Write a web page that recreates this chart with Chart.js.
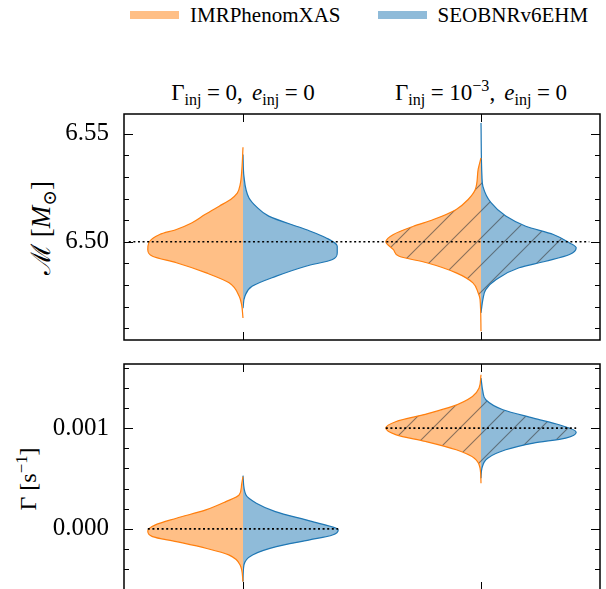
<!DOCTYPE html>
<html>
<head>
<meta charset="utf-8">
<script src="https://cdn.jsdelivr.net/npm/chart.js@4.4.1/dist/chart.umd.min.js"></script>
<style>
    body {
        margin: 0;
        width: 606px;
        height: 589px;
        overflow: hidden;
        background: #fff;
        position: relative;
        font-family: 'Liberation Serif', 'DejaVu Serif', serif;
        color: #000;
    }
    canvas { position: absolute; left: 0; }
    #chartTop { top: 98px; }
    #chartBottom { top: 348px; }
    #legend {
        position: absolute;
        left: 130px;
        top: 4px;
        display: flex;
        align-items: center;
        font-size: 21px;
        line-height: 22px;
        white-space: nowrap;
    }
    .swatch { display: inline-block; width: 49px; height: 8px; margin-right: 11px; }
    .legend-item { display: flex; align-items: center; }
    .legend-item + .legend-item { margin-left: 37px; }
    .col-title {
        position: absolute;
        top: 81px;
        font-size: 23px;
        line-height: 23px;
        white-space: nowrap;
        transform: translateX(-50%);
    }
    .eq { margin: 0 0.24em; }
    .sep { margin-right: 0.4em; }
    sub, sup { font-size: 70%; line-height: 0; }
    sub { vertical-align: -0.3em; }
    sup { vertical-align: 0.55em; }
    .y-title {
        position: absolute;
        font-size: 24px;
        line-height: 24px;
        white-space: nowrap;
        transform: translate(-50%, -50%) rotate(-90deg);
    }
</style>
</head>
<body>
<div id="legend">
    <div class="legend-item"><span class="swatch" style="background:#ffbf86"></span>IMRPhenomXAS</div>
    <div class="legend-item"><span class="swatch" style="background:#8fbbd9"></span>SEOBNRv6EHM</div>
</div>
<div class="col-title">Γ<sub>inj</sub><span class="eq">=</span>0,<span class="sep"></span><i>e</i><sub>inj</sub><span class="eq">=</span>0</div>
<div class="col-title">Γ<sub>inj</sub><span class="eq">=</span>10<sup>−3</sup>,<span class="sep"></span><i>e</i><sub>inj</sub><span class="eq">=</span>0</div>
<div class="y-title" style="left:41px; top:228px; font-size:27px">ℳ [<i>M</i><sub>⊙</sub>]</div>
<div class="y-title" style="left:28px; top:479px">Γ [s<sup>−1</sup>]</div>
<canvas id="chartTop" width="606" height="258"></canvas>
<canvas id="chartBottom" width="606" height="258"></canvas>
<script>
// violin centres: Γinj = 0 and Γinj = 1e-3
const positions = [0, 1];
const mcInj = 6.50;
const gammaInj = [0, 0.001];

// posteriors as [value, relative density] (density 1 = widest point)
const mcXasNoDecay = [[6.4647, 0], [6.4710, 0.015], [6.4748, 0.04], [6.4810, 0.146], [6.4856, 0.385], [6.4903, 0.70],
    [6.4933, 0.95], [6.4964, 1.0], [6.4995, 0.99], [6.5034, 0.875], [6.5057, 0.70], [6.5087, 0.54], [6.5126, 0.40],
    [6.5165, 0.25], [6.5196, 0.13], [6.5225, 0.06], [6.5265, 0.03], [6.5335, 0.012], [6.5438, 0]];
const mcEobNoDecay = [[6.4693, 0], [6.4748, 0.02], [6.4794, 0.095], [6.4841, 0.35], [6.4887, 0.66], [6.4918, 0.94],
    [6.4949, 0.99], [6.4980, 0.99], [6.5019, 0.87], [6.5057, 0.66], [6.5119, 0.27], [6.5163, 0.14], [6.5203, 0.063],
    [6.5303, 0.01], [6.5404, 0]];
const mcXasDecay = [[6.4586, 0], [6.4733, 0.01], [6.4764, 0.03], [6.4810, 0.085], [6.4856, 0.26], [6.4903, 0.57],
    [6.4933, 0.86], [6.4964, 0.92], [6.5000, 1.0], [6.5034, 0.92], [6.5072, 0.71], [6.5103, 0.50], [6.5150, 0.26],
    [6.5196, 0.135], [6.5242, 0.06], [6.5335, 0.03], [6.5388, 0]];
const mcEobDecay = [[6.4671, 0], [6.4733, 0.02], [6.4779, 0.05], [6.4825, 0.16], [6.4880, 0.40], [6.4910, 0.68],
    [6.4941, 0.93], [6.4972, 1.0], [6.4995, 0.93], [6.5034, 0.76], [6.5072, 0.47], [6.5119, 0.26], [6.5181, 0.105],
    [6.5257, 0.02], [6.5304, 0.01], [6.5550, 0]];

const gammaXasNoDecay = [[-0.000523, 0], [-0.000357, 0.03], [-0.000258, 0.15], [-0.000192, 0.39], [-0.000126, 0.70],
    [-0.000076, 0.95], [-0.000020, 1.0], [0.000040, 0.92], [0.000106, 0.70], [0.000189, 0.39], [0.000271, 0.18],
    [0.000338, 0.04], [0.000437, 0.015], [0.000519, 0]];
const gammaEobNoDecay = [[-0.000523, 0], [-0.000357, 0.01], [-0.000258, 0.10], [-0.000176, 0.35], [-0.000109, 0.70],
    [-0.000060, 0.94], [-0.000010, 1.0], [0.000072, 0.73], [0.000172, 0.34], [0.000255, 0.14], [0.000338, 0.03],
    [0.000529, 0]];
const gammaXasDecay = [[0.000454, 0], [0.000603, 0.01], [0.000702, 0.07], [0.000785, 0.26], [0.000867, 0.58],
    [0.000933, 0.89], [0.001000, 1.0], [0.001066, 0.89], [0.001132, 0.61], [0.001215, 0.30], [0.001314, 0.09],
    [0.001397, 0.02], [0.001529, 0]];
const gammaEobDecay = [[0.000503, 0], [0.000603, 0.01], [0.000702, 0.07], [0.000785, 0.26], [0.000851, 0.55],
    [0.000901, 0.89], [0.000960, 1.0], [0.001033, 0.82], [0.001099, 0.55], [0.001182, 0.23], [0.001281, 0.05],
    [0.001363, 0.02], [0.001497, 0]];

const HALF_WIDTH = 0.4;
const ORANGE = '#ff7f0e';
const BLUE = '#1f77b4';
const ORANGE_FILL = '#ffbf86';
const BLUE_FILL = '#8fbbd9';
const FONT = "'Liberation Serif', 'DejaVu Serif', serif";

function hatch(base) {
    const size = 27;
    const c = document.createElement('canvas');
    c.width = c.height = size;
    const g = c.getContext('2d');
    g.fillStyle = base;
    g.fillRect(0, 0, size, size);
    g.strokeStyle = 'rgba(60, 60, 60, 0.6)';
    g.lineWidth = 1.1;
    g.beginPath();
    g.moveTo(0, size); g.lineTo(size, 0);
    g.moveTo(-size / 2, size / 2); g.lineTo(size / 2, -size / 2);
    g.moveTo(size / 2, size * 1.5); g.lineTo(size * 1.5, size / 2);
    g.stroke();
    return g.createPattern(c, 'repeat');
}

// one half of a split violin, closed along the centre line by fill: 'shape'
function halfViolin(samples, pos, side, edge, fillStyle) {
    return {
        data: samples.map(([v, d]) => ({ x: pos + side * d * HALF_WIDTH, y: v })),
        borderColor: edge,
        backgroundColor: fillStyle,
        borderWidth: 1.2,
        fill: 'shape',
        cubicInterpolationMode: 'monotone',
        pointRadius: 0,
        order: 1
    };
}

function injLine(x0, x1, value) {
    return {
        data: [{ x: x0, y: value }, { x: x1, y: value }],
        borderColor: '#000',
        borderWidth: 1.6,
        borderDash: [2, 2.6],
        fill: false,
        pointRadius: 0,
        order: 0
    };
}

// frame with inward ticks, like the matplotlib style of the original
const axesFrame = {
    id: 'axesFrame',
    afterDatasetsDraw(chart) {
        const { ctx, chartArea: a, scales: { x, y } } = chart;
        ctx.save();
        ctx.strokeStyle = '#000';
        ctx.lineWidth = 1;
        ctx.beginPath();
        y.ticks.forEach(t => {
            const py = Math.round(y.getPixelForValue(t.value)) + 0.5;
            const len = t.label ? 9 : 5;
            ctx.moveTo(a.left, py); ctx.lineTo(a.left + len, py);
            ctx.moveTo(a.right, py); ctx.lineTo(a.right - len, py);
        });
        positions.forEach(p => {
            const px = Math.round(x.getPixelForValue(p)) + 0.5;
            ctx.moveTo(px, a.top); ctx.lineTo(px, a.top + 8);
            ctx.moveTo(px, a.bottom); ctx.lineTo(px, a.bottom - 8);
        });
        ctx.stroke();
        ctx.lineWidth = 1.5;
        ctx.strokeRect(a.left, a.top, a.right - a.left, a.bottom - a.top);
        ctx.restore();
    }
};

function makePanel(canvasId, datasets, yOpts) {
    return new Chart(document.getElementById(canvasId), {
        type: 'line',
        data: { datasets },
        options: {
            indexAxis: 'y',
            responsive: false,
            animation: false,
            events: [],
            layout: { padding: { top: 16, right: 6, bottom: 16, left: 0 } },
            plugins: { legend: { display: false }, tooltip: { enabled: false } },
            scales: {
                x: { type: 'linear', min: -0.5, max: 1.5, display: false },
                y: {
                    type: 'linear',
                    min: yOpts.min,
                    max: yOpts.max,
                    afterFit: s => {
                        s.width = 124;
                        s.paddingTop = 0;
                        s.paddingBottom = 0;
                    },
                    grid: { display: false },
                    border: { display: false },
                    ticks: {
                        stepSize: yOpts.step,
                        includeBounds: false,
                        autoSkip: false,
                        padding: 7,
                        color: '#000',
                        font: { family: FONT, size: 25 },
                        callback: yOpts.label
                    }
                }
            }
        },
        plugins: [axesFrame]
    });
}

const hatchOrange = hatch(ORANGE_FILL);
const hatchBlue = hatch(BLUE_FILL);

const topChart = makePanel('chartTop', [
    injLine(-0.48, 1.455, mcInj),
    halfViolin(mcXasNoDecay, positions[0], -1, ORANGE, ORANGE_FILL),
    halfViolin(mcEobNoDecay, positions[0], 1, BLUE, BLUE_FILL),
    halfViolin(mcXasDecay, positions[1], -1, ORANGE, hatchOrange),
    halfViolin(mcEobDecay, positions[1], 1, BLUE, hatchBlue)
], {
    min: 6.45454, max: 6.55917, step: 0.01,
    label: v => Math.abs(v * 20 - Math.round(v * 20)) < 1e-6 ? v.toFixed(2) : ''
});

makePanel('chartBottom', [
    injLine(positions[0] - HALF_WIDTH, positions[0] + HALF_WIDTH, gammaInj[0]),
    injLine(positions[1] - HALF_WIDTH, positions[1] + HALF_WIDTH, gammaInj[1]),
    halfViolin(gammaXasNoDecay, positions[0], -1, ORANGE, ORANGE_FILL),
    halfViolin(gammaEobNoDecay, positions[0], 1, BLUE, BLUE_FILL),
    halfViolin(gammaXasDecay, positions[1], -1, ORANGE, hatchOrange),
    halfViolin(gammaEobDecay, positions[1], 1, BLUE, hatchBlue)
], {
    min: -0.000606, max: 0.001636, step: 0.0002,
    label: v => Math.abs(v * 1000 - Math.round(v * 1000)) < 1e-6 ? Math.abs(v).toFixed(3) : ''
});

// column titles sit over the violin centres
document.querySelectorAll('.col-title').forEach((el, i) => {
    el.style.left = topChart.scales.x.getPixelForValue(positions[i]) + 'px';
});
</script>
</body>
</html>
